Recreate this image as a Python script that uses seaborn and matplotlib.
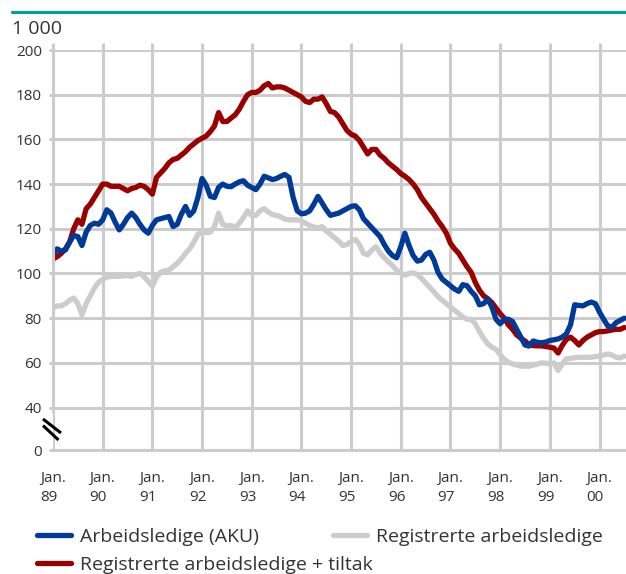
import numpy as np
import pandas as pd
import matplotlib
matplotlib.use("Agg")
import matplotlib.pyplot as plt
import matplotlib.transforms as mtransforms
from matplotlib.lines import Line2D
import seaborn as sns

# Monthly values, Jan 1989 - Jul 2000 (1 000 persons)
year_labels = ["89", "90", "91", "92", "93", "94", "95", "96", "97", "98", "99", "00"]

aku = [
    108.5, 111, 110, 110.5, 114, 117, 116.5, 112.5, 118.5, 121.5, 122.5, 122,
    124, 128.5, 127, 123, 119.5, 122, 125, 127, 125, 122, 119.5, 118,
    121.5, 124, 124.5, 125, 125.5, 121, 122, 126.5, 130, 126, 128, 134,
    142.5, 139.5, 134.5, 134, 138.5, 140, 139, 138.8, 140, 141, 141.5, 139.5,
    138.5, 137.5, 140, 143.5, 142.8, 142, 142.5, 143.5, 144.3, 143, 134, 128,
    126.7, 127, 128, 131, 134.5, 131.5, 128.5, 126, 126.5, 127, 128, 129,
    130, 130.3, 128.5, 124.5, 122.5, 120.5, 118.5, 116.5, 113, 110, 108, 107,
    112, 118, 112.5, 108, 105.5, 106, 108.5, 109.5, 106, 100.5, 97.5, 96,
    94.5, 93, 92, 95, 94.5, 92, 90, 86, 86.5, 88.5, 85, 79.5,
    77.5, 79.5, 79.5, 78.5, 75, 71.5, 68, 67.5, 69.8, 69.2, 69, 69.3,
    70, 70.3, 70.7, 71.5, 73, 77, 86, 85.7, 85.5, 86.5, 87.2, 86.5,
    82.7, 79.5, 76.5, 76, 78, 79, 80,
]

registrerte = [
    84.5, 85.5, 85.5, 86.5, 88, 89, 86.5, 81.5, 86.5, 90, 93.5, 96,
    97.5, 98.3, 98.7, 98.7, 98.7, 99, 99, 98.7, 99.5, 100, 98.5, 96.5,
    94.3, 98.5, 100.5, 101.2, 101.5, 103, 104.5, 106.5, 109, 111, 114, 117.5,
    118.5, 118.3, 118.5, 121, 127, 122, 121.3, 121.5, 120.5, 122.5, 125, 128,
    126, 126, 128, 129, 127.5, 126.3, 126, 125.3, 124.3, 124, 124, 124,
    123.5, 122.5, 121.5, 120.8, 120.3, 121, 119, 117.5, 116, 114.5, 112.5, 113,
    114.3, 115.3, 113, 109, 108.3, 110.5, 112, 109.2, 107, 105.3, 103.5, 101.5,
    100, 99.3, 100, 100.3, 99.5, 97.8, 95.8, 93.8, 91.8, 89.6, 88, 86.5,
    85, 83.5, 82, 80.5, 79.5, 79.5, 77.5, 74, 71, 68.5, 67, 66,
    63.7, 61.5, 60.3, 59.5, 59, 58.5, 58.5, 58.5, 59, 59.5, 60, 59.8,
    59.6, 60, 56.6, 59.5, 61.8, 62, 62.3, 62.5, 62.5, 62.5, 62.5, 62.8,
    63, 63.5, 64, 63.5, 62.5, 62.2, 63,
]

reg_tiltak = [
    106.5, 107.5, 109, 111, 114, 120, 124, 122, 129, 131, 134, 137,
    140, 140, 139, 139, 139, 138, 137, 138, 138.5, 139.5, 139, 137.5,
    135.5, 143, 145, 147, 149.5, 151, 151.5, 153, 154.5, 156.5, 158, 159.5,
    160.5, 161.5, 163.5, 166, 172, 168, 168, 169.5, 171, 173.5, 177, 180,
    181, 181, 182, 184, 185, 183, 183.5, 183.5, 183, 182, 181, 180,
    179, 177, 176.5, 178, 178, 179, 176, 172.5, 172, 170, 167, 164,
    162.3, 161.5, 159.5, 156.5, 153.5, 155.5, 155.5, 153, 151.5, 149.5, 148, 146.5,
    144.7, 143.5, 142, 140, 137.5, 134, 131.5, 129, 126.5, 123.5, 121, 118,
    113.5, 111, 109, 106, 103, 100.5, 96, 92.5, 90, 88.7, 87, 84.5,
    82, 80, 77, 75, 72.5, 71, 69.8, 68.2, 67.7, 67.6, 67.6, 67.3,
    67, 66.6, 64.4, 67.8, 70.5, 71.5, 70, 68, 70, 71.5, 72.5, 73.5,
    74, 74, 74.3, 74.7, 75, 75, 75.8,
]

month = np.arange(len(aku))
df = pd.DataFrame({
    "month": month,
    "Arbeidsledige (AKU)": aku,
    "Registrerte arbeidsledige": registrerte,
    "Registrerte arbeidsledige + tiltak": reg_tiltak,
})

BLUE = "#003a98"
RED = "#990000"
GRAY = "#cccccc"
TEAL = "#00a19a"
TEXT = "#333333"
W, H = 626, 574

sns.set_theme(style="white")
plt.rcParams["font.family"] = ["Open Sans", "DejaVu Sans"]
plt.rcParams["font.size"] = 14

fig = plt.figure(figsize=(W / 100, H / 100), dpi=100)
ax = fig.add_axes([53 / W, 1 - 450 / H, 1 - 53 / W, 400 / H])

# axis break: "0" sits one step below 40
floor = 21
lw = 3.8
for col, c in [("Registrerte arbeidsledige", GRAY),
               ("Registrerte arbeidsledige + tiltak", RED),
               ("Arbeidsledige (AKU)", BLUE)]:
    sns.lineplot(data=df, x="month", y=col, color=c, lw=lw, ax=ax, label=col,
                 solid_joinstyle="round")
if ax.get_legend():
    ax.get_legend().remove()

ax.set_xlim(0, 138.4)
ax.set_ylim(floor, 200)
ax.set_xlabel("")
ax.set_ylabel("")

yt = [floor] + list(range(40, 201, 20))
ax.set_yticks(yt)
ax.set_yticklabels(["0"] + [str(v) for v in range(40, 201, 20)], color=TEXT)
ax.set_xticks(np.arange(0, len(month), 12))
ax.set_xticklabels(["Jan.\n" + y for y in year_labels], color=TEXT,
                   multialignment="left", linespacing=1.35)
offset = mtransforms.ScaledTranslation(4 / 100, 0, fig.dpi_scale_trans)
for lab in ax.get_xticklabels():
    lab.set_transform(lab.get_transform() + offset)

ax.grid(True, color=GRAY, lw=2.2)
ax.set_axisbelow(True)
ax.tick_params(axis="y", left=True, length=3, width=2.2, color=GRAY, pad=5)
ax.tick_params(axis="x", bottom=False, top=True, length=5, width=2.2,
               color=GRAY, pad=10, labeltop=False)
for s in ["right", "top"]:
    ax.spines[s].set_visible(False)
for s in ["left", "bottom"]:
    ax.spines[s].set_color(GRAY)
    ax.spines[s].set_linewidth(2.2)
ax.spines["left"].set_bounds(38.5, 200)


def fpx(x, y):
    return x / W, 1 - y / H


# break marks
for (x0, y0), (x1, y1) in [((43, 419), (61, 433)), ((43, 425.5), (58.5, 440))]:
    a, b = fpx(x0, y0)
    c, d = fpx(x1, y1)
    fig.add_artist(Line2D([a, c], [b, d], color="black", lw=2.2,
                          solid_capstyle="butt"))

# teal rule at the top
a, b = fpx(12, 12)
fig.add_artist(Line2D([a, 1], [b, b], color=TEAL, lw=2.3))

x0, y0 = fpx(12, 29)
fig.text(x0, y0, "1 000", ha="left", va="center", color=TEXT, fontsize=14)

# legend
lines = {ln.get_label(): ln for ln in ax.get_lines()}
for name, (px_, py_) in [("Arbeidsledige (AKU)", (37, 537)),
                         ("Registrerte arbeidsledige", (333, 537)),
                         ("Registrerte arbeidsledige + tiltak", (37, 565))]:
    leg = fig.legend([lines[name]], [name], loc="center left",
                     bbox_to_anchor=fpx(px_, py_), frameon=False,
                     borderpad=0, borderaxespad=0, handlelength=1.75,
                     handletextpad=0.45, fontsize=14, labelcolor=TEXT)

fig.savefig("out.png", dpi=100)
